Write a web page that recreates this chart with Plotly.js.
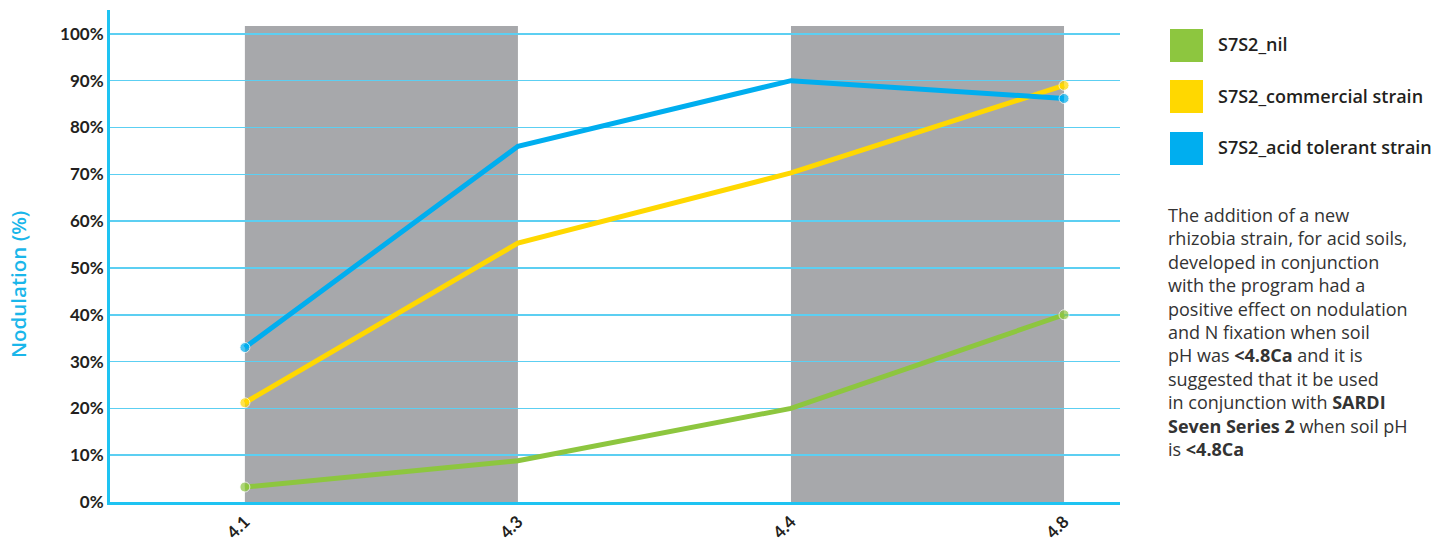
<!DOCTYPE html>
<html><head><meta charset="utf-8">
<script src="https://cdn.plot.ly/plotly-3.0.1.min.js"></script>
<style>html,body{margin:0;padding:0;background:#fff}#chart{width:1455px;height:543px}</style>
</head><body><div id="chart"></div>
<script>
const categories = ['4.1', '4.3', '4.4', '4.8'];
const nilValues = [3.2, 8.8, 20, 40];
const commercialValues = [21.2, 55.3, 70.3, 89];
const acidTolerantValues = [33, 76, 90, 86.2];
const seriesNames = ['S7S2_nil', 'S7S2_commercial strain', 'S7S2_acid tolerant strain'];
const yTickValues = [0, 10, 20, 30, 40, 50, 60, 70, 80, 90, 100];
const yTickLabels = ['0%', '10%', '20%', '30%', '40%', '50%', '60%', '70%', '80%', '90%', '100%'];
const shadedPairs = [[0, 1], [2, 3]];

const colors = ['#8dc63f', '#ffd800', '#00aeef'];
const allValues = [nilValues, commercialValues, acidTolerantValues];

const traces = allValues.map((vals, i) => ({
  type: 'scatter', mode: 'lines+markers', x: categories, y: vals, name: seriesNames[i],
  line: {color: colors[i], width: 5},
  marker: {color: colors[i], size: vals.map((v, j) => (j === 0 || j === vals.length - 1) ? 10 : 0)},
  showlegend: false, hoverinfo: 'x+y'
}));

const shapes = shadedPairs.map(p => ({
  type: 'rect', xref: 'x', yref: 'y', x0: p[0], x1: p[1], y0: 0, y1: 101.7,
  fillcolor: '#a7a8ab', line: {width: 0}, layer: 'below'
}));
const annotations = [];
const legendTop = [29, 80, 132];
seriesNames.forEach((n, i) => {
  shapes.push({type: 'rect', xref: 'paper', yref: 'paper',
    x0: (1170 - 110) / 1010, x1: (1203 - 110) / 1010,
    y0: (502 - legendTop[i] - 33) / 492, y1: (502 - legendTop[i]) / 492,
    fillcolor: colors[i], line: {width: 0}});
  annotations.push({xref: 'paper', yref: 'paper', x: (1216 - 110) / 1010, y: (502 - legendTop[i] - 15.5) / 492,
    xanchor: 'left', yanchor: 'middle', showarrow: false, text: n,
    font: {family: '"Open Sans", sans-serif', size: 18, weight: 600, color: '#231f20'}});
});
const para = 'The addition of a new<br>rhizobia strain, for acid soils,<br>developed in conjunction<br>with the program had a<br>positive effect on nodulation<br>and N fixation when soil<br>pH was <b>&lt;4.8Ca</b> and it is<br>suggested that it be used<br>in conjunction with <b>SARDI</b><br><b>Seven Series 2</b> when soil pH<br>is <b>&lt;4.8Ca</b>';
annotations.push({xref: 'paper', yref: 'paper', x: (1166 - 110) / 1010, y: (502 - 201) / 492,
  xanchor: 'left', yanchor: 'top', align: 'left', showarrow: false, text: para,
  font: {family: '"Open Sans", sans-serif', size: 18, color: '#333333'}});
annotations.push({xref: 'paper', yref: 'paper', x: (18 - 110) / 1010, y: (502 - 285) / 492,
  xanchor: 'center', yanchor: 'middle', textangle: -90, showarrow: false, text: 'Nodulation (%)',
  font: {family: '"Open Sans", sans-serif', size: 20.5, weight: 600, color: '#1ab6ea'}});

const layout = {
  width: 1455, height: 543,
  margin: {l: 110, r: 335, t: 10, b: 41},
  paper_bgcolor: '#ffffff', plot_bgcolor: '#ffffff',
  xaxis: {type: 'category', range: [-0.494, 3.205], showgrid: false, zeroline: false,
    showline: true, linecolor: '#1ec3f2', linewidth: 3, ticks: '',
    tickangle: -45, tickfont: {family: 'Lato, sans-serif', size: 17, weight: 700, color: '#231f20'}},
  yaxis: {range: [0, 105.1], tickmode: 'array', tickvals: yTickValues, ticktext: yTickLabels, showgrid: true,
    gridcolor: '#5ccff2', gridwidth: 1.5, zeroline: false,
    showline: true, linecolor: '#1ec3f2', linewidth: 3, ticks: '',
    tickfont: {family: 'Lato, sans-serif', size: 17, weight: 700, color: '#231f20'}},
  shapes: shapes, annotations: annotations, showlegend: false
};
Plotly.newPlot('chart', traces, layout, {displayModeBar: false, staticPlot: true});
</script></body></html>
